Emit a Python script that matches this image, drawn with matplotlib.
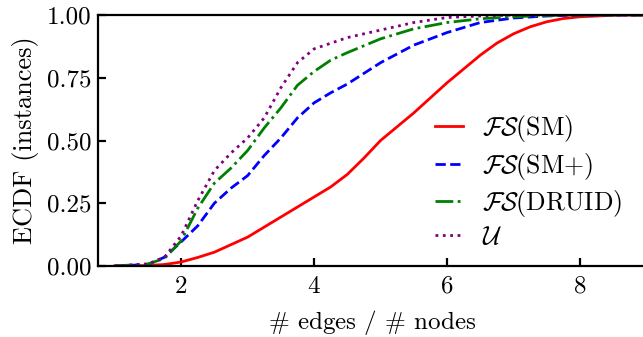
import matplotlib
matplotlib.use("Agg")
import matplotlib.pyplot as plt

plt.rcParams["font.family"] = "serif"
plt.rcParams["font.serif"] = ["cmr10"]
plt.rcParams["mathtext.fontset"] = "cm"
plt.rcParams["axes.formatter.use_mathtext"] = True
plt.rcParams["axes.unicode_minus"] = False

sm_x = [1.0, 1.5, 1.75, 2.0, 2.25, 2.5, 2.75, 3.0, 3.25, 3.5, 3.75, 4.0, 4.25, 4.5, 4.75,
        5.0, 5.25, 5.5, 5.75, 6.0, 6.25, 6.5, 6.75, 7.0, 7.25, 7.5, 7.75, 8.0, 8.5, 9.0]
sm_y = [0.0, 0.002, 0.006, 0.016, 0.034, 0.055, 0.085, 0.115, 0.155, 0.195, 0.235, 0.275, 0.315,
        0.365, 0.43, 0.50, 0.555, 0.61, 0.67, 0.73, 0.785, 0.84, 0.888, 0.925, 0.953, 0.973,
        0.986, 0.993, 0.999, 1.0]

smp_x = [1.0, 1.5, 1.75, 2.0, 2.25, 2.5, 2.75, 3.0, 3.25, 3.5, 3.75, 4.0, 4.25, 4.5, 5.0,
         5.5, 6.0, 6.5, 7.0, 7.5, 8.0, 9.0]
smp_y = [0.0, 0.006, 0.035, 0.096, 0.16, 0.25, 0.31, 0.36, 0.44, 0.51, 0.59, 0.65, 0.69, 0.725,
         0.81, 0.88, 0.93, 0.97, 0.988, 0.996, 1.0, 1.0]

druid_x = [1.0, 1.5, 1.75, 2.0, 2.25, 2.5, 2.75, 3.0, 3.25, 3.5, 3.75, 4.0, 4.25, 4.5, 5.0,
           5.5, 6.0, 6.5, 7.0, 7.5, 8.0, 9.0]
druid_y = [0.0, 0.008, 0.03, 0.10, 0.23, 0.33, 0.39, 0.46, 0.55, 0.63, 0.72, 0.775, 0.82, 0.85,
           0.905, 0.945, 0.97, 0.985, 0.993, 0.998, 1.0, 1.0]

u_x = [1.0, 1.5, 1.75, 2.0, 2.25, 2.5, 2.75, 3.0, 3.25, 3.5, 3.75, 4.0, 4.5, 5.0, 5.5, 6.0,
       6.5, 7.0, 8.0, 9.0]
u_y = [0.0, 0.008, 0.035, 0.12, 0.26, 0.38, 0.45, 0.51, 0.59, 0.71, 0.81, 0.865, 0.91, 0.94,
       0.97, 0.99, 0.996, 1.0, 1.0, 1.0]

fig = plt.figure(figsize=(6.43, 3.37), dpi=100)
ax = fig.add_axes([98 / 643, 71 / 337, 548.5 / 643, 251 / 337])

ax.plot(sm_x, sm_y, color="red", linestyle="-", linewidth=2, label=r"$\mathcal{FS}$(SM)")
ax.plot(smp_x, smp_y, color="blue", linestyle="--", linewidth=2, label=r"$\mathcal{FS}$(SM+)")
ax.plot(druid_x, druid_y, color="green", linestyle="-.", linewidth=2, label=r"$\mathcal{FS}$(DRUID)")
ax.plot(u_x, u_y, color="purple", linestyle=":", linewidth=2, label=r"$\mathcal{U}$")

ax.set_xlim(0.75, 9.0)
ax.set_ylim(0, 1)
ax.set_xticks([2, 4, 6, 8])
ax.set_yticks([0, 0.25, 0.5, 0.75, 1.0])
ax.set_yticklabels(["0.00", "0.25", "0.50", "0.75", "1.00"])
ax.tick_params(axis="both", direction="in", length=6, width=1.6, labelsize=18)
ax.tick_params(axis="x", pad=7)
ax.tick_params(axis="y", pad=5)
ax.spines["right"].set_visible(False)
for s in ["left", "bottom", "top"]:
    ax.spines[s].set_linewidth(1.6)

ax.set_xlabel(r"$\#$ edges / $\#$ nodes", fontsize=18, labelpad=7)
ax.set_ylabel("ECDF (instances)", fontsize=19, labelpad=5)

ax.legend(loc="lower right", bbox_to_anchor=(0.998, -0.025), frameon=False, fontsize=18.5,
          handlelength=1.1, handletextpad=0.75, labelspacing=0.25)

fig.savefig("out.png", dpi=100)
